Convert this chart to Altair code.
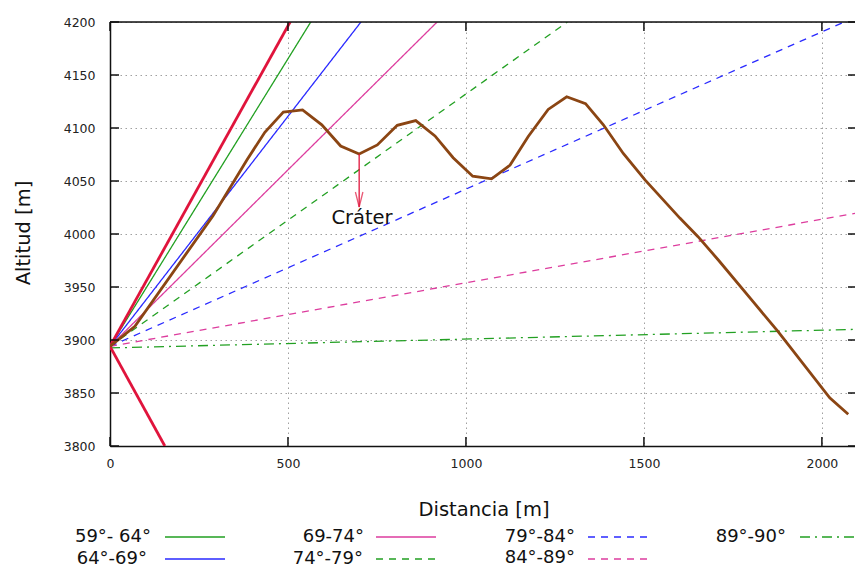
import altair as alt
import pandas as pd

# ---------------- data ----------------
perfil_dist = [0, 70, 289, 385, 435, 487, 541, 595, 648, 700, 751, 807, 859, 913,
               964, 1019, 1072, 1124, 1175, 1231, 1283, 1336, 1386, 1442, 1503,
               1601, 1652, 1709, 1802, 1877, 2022, 2074]
perfil_alt = [3894, 3913, 4017, 4070, 4096, 4115, 4117, 4103, 4083, 4075.5, 4084,
              4102.5, 4107, 4092.5, 4072, 4054.5, 4052, 4065, 4092, 4117.5, 4129.5,
              4123, 4103, 4076, 4051, 4015, 3997.5, 3975.5, 3938, 3908, 3845.5, 3830]

serie_labels = ["59°- 64°", "64°-69°", "69-74°", "74°-79°", "79°-84°", "84°-89°", "89°-90°"]
ray_start_dist = [0, 0, 0, 0, 0, 0, 0]
ray_start_alt = [3894, 3894, 3894, 3894, 3894, 3894, 3892.5]
ray_end_dist = [564, 705, 919, 1285, 2063, 2093, 2093]
ray_end_alt = [4200, 4200, 4200, 4200, 4200, 4019.5, 3910]

rojo_start_dist = [0, 0]
rojo_start_alt = [3894, 3894]
rojo_end_dist = [506, 154]
rojo_end_alt = [4200, 3800]

crater_dist = 700
crater_top = 4075.5
crater_tip = 4025.5
crater_label = "Cráter"
crater_label_dist = 708
crater_label_alt = 4015

x_ticks = [0, 500, 1000, 1500, 2000]
y_ticks = [3800, 3850, 3900, 3950, 4000, 4050, 4100, 4150, 4200]

# ---------------- styles ----------------
verde, azul, magenta = "#22a022", "#2a2aff", "#dd3d9e"
rojo, marron = "#e0143c", "#8b4513"
serie_colors = [verde, azul, magenta, verde, azul, magenta, verde]
serie_dashes = [[1, 0], [1, 0], [1, 0], [7, 6], [7, 6], [7, 6], [10, 5, 2, 5]]
FONT = "DejaVu Sans"
W, H = 745, 424

xs = alt.Scale(domain=[0, 2093], nice=False, zero=False)
ys = alt.Scale(domain=[3800, 4200], nice=False, zero=False)
col_scale = alt.Scale(domain=serie_labels, range=serie_colors)
dash_scale = alt.Scale(domain=serie_labels, range=serie_dashes)

# ---------------- tables ----------------
rays = pd.DataFrame({
    "serie": serie_labels * 2,
    "dist": ray_start_dist + ray_end_dist,
    "alt": ray_start_alt + ray_end_alt,
    "ord": [0] * 7 + [1] * 7,
})
rojos = pd.DataFrame({
    "id": [0, 1, 0, 1],
    "dist": rojo_start_dist + rojo_end_dist,
    "alt": rojo_start_alt + rojo_end_alt,
    "ord": [0, 0, 1, 1],
})
perfil = pd.DataFrame({"dist": perfil_dist, "alt": perfil_alt})

# ---------------- base with axes / grid ----------------
base = alt.Chart(pd.DataFrame({"dist": [0], "alt": [3800]})).mark_point(opacity=0).encode(
    x=alt.X("dist:Q", scale=xs, axis=alt.Axis(
        values=x_ticks, format="d", title=None, ticks=False, tickSize=0,
        labelPadding=11, labelFontSize=12.5, labelFont=FONT, labelColor="#222",
        domainColor="#111", domainWidth=1.5, grid=True, gridDash=[1.5, 3.5],
        gridColor="#a0a0a0", labelFlush=False)),
    y=alt.Y("alt:Q", scale=ys, axis=alt.Axis(
        values=y_ticks, format="d", title=None, ticks=False, tickSize=0,
        labelPadding=15, labelFontSize=12.5, labelFont=FONT, labelColor="#222",
        domainColor="#111", domainWidth=1.5, grid=True, gridDash=[1.5, 3.5],
        gridColor="#a0a0a0", labelFlush=False)),
)

rays_layer = alt.Chart(rays).mark_line(strokeWidth=1.3, clip=True).encode(
    x=alt.X("dist:Q", scale=xs),
    y=alt.Y("alt:Q", scale=ys),
    order="ord:Q",
    color=alt.Color("serie:N", scale=col_scale, legend=None),
    strokeDash=alt.StrokeDash("serie:N", scale=dash_scale, legend=None),
    detail="serie:N",
)

rojos_layer = alt.Chart(rojos).mark_line(strokeWidth=2.8, color=rojo, clip=True).encode(
    x=alt.X("dist:Q", scale=xs), y=alt.Y("alt:Q", scale=ys),
    order="ord:Q", detail="id:N")

perfil_layer = alt.Chart(perfil).mark_line(strokeWidth=2.8, color=marron, clip=True).encode(
    x=alt.X("dist:Q", scale=xs, sort=None), y=alt.Y("alt:Q", scale=ys))

crater_df = pd.DataFrame({"dist": [crater_dist], "top": [crater_top], "tip": [crater_tip],
                          "ld": [crater_label_dist], "la": [crater_label_alt],
                          "txt": [crater_label]})
arrow_line = alt.Chart(crater_df).mark_rule(color=rojo, strokeWidth=1.3).encode(
    x=alt.X("dist:Q", scale=xs), y=alt.Y("top:Q", scale=ys), y2="tip:Q")
arrow_head = alt.Chart(crater_df).mark_point(
    shape="M -0.5 -1 L 0 1 L 0.5 -1", filled=False, color=rojo, strokeWidth=1.3,
    size=225, yOffset=-7.5).encode(x=alt.X("dist:Q", scale=xs), y=alt.Y("tip:Q", scale=ys))
crater_text = alt.Chart(crater_df).mark_text(
    font=FONT, fontSize=19.5, color="#111", baseline="middle", align="center").encode(
    x=alt.X("ld:Q", scale=xs), y=alt.Y("la:Q", scale=ys), text="txt:N")

# ---------------- border and inward ticks ----------------
yt = pd.DataFrame({"alt": y_ticks})
xt = pd.DataFrame({"dist": x_ticks})
tick_style = dict(color="#111", strokeWidth=1.5)
top_border = alt.Chart(xt.head(1)).mark_rule(color="#111", strokeWidth=1.5).encode(
    x=alt.value(0), x2=alt.value(W), y=alt.value(0))
left_ticks = alt.Chart(yt).mark_rule(**tick_style).encode(
    y=alt.Y("alt:Q", scale=ys), x=alt.value(0), x2=alt.value(9))
right_ticks = alt.Chart(yt).mark_rule(**tick_style).encode(
    y=alt.Y("alt:Q", scale=ys), x=alt.value(W - 7), x2=alt.value(W))
bottom_ticks = alt.Chart(xt).mark_rule(**tick_style).encode(
    x=alt.X("dist:Q", scale=xs), y=alt.value(H), y2=alt.value(H - 9))
top_ticks = alt.Chart(xt).mark_rule(**tick_style).encode(
    x=alt.X("dist:Q", scale=xs), y=alt.value(0), y2=alt.value(9))

# ---------------- titles ----------------
one = pd.DataFrame({"a": [0]})
xtitle = alt.Chart(one).mark_text(font=FONT, fontSize=19.5, color="#111",
                                  align="center", baseline="middle").encode(
    x=alt.value(374), y=alt.value(488), text=alt.value("Distancia [m]"))
ytitle = alt.Chart(one).mark_text(font=FONT, fontSize=19.5, color="#111", angle=270,
                                  align="center", baseline="middle").encode(
    x=alt.value(-86), y=alt.value(211), text=alt.value("Altitud [m]"))

# ---------------- manual legend (label left of sample) ----------------
label_right = [151, 147, 364, 363, 575, 575, 786]
label_dy = [0, 0, 0, 0, 0, -1, 0]
col_sample = [(165, 225), (376, 436), (588, 648), (800, 855)]
row_y = [537, 559]
leg_rows = []
for i, lab in enumerate(serie_labels):
    c, r = i // 2, i % 2
    leg_rows.append({"serie": lab,
                     "lx": label_right[i] - 110,
                     "sx0": col_sample[c][0] - 110, "sx1": col_sample[c][1] - 110,
                     "ly": row_y[r] - 22, "ty": row_y[r] - 22 + label_dy[i]})
leg = pd.DataFrame(leg_rows)
leg_text = alt.Chart(leg).mark_text(font=FONT, fontSize=18, color="#111",
                                    align="right", baseline="middle").encode(
    x=alt.X("lx:Q", scale=None, axis=None), y=alt.Y("ty:Q", scale=None, axis=None),
    text="serie:N")
leg_lines = alt.Chart(leg).mark_rule(strokeWidth=1.6).encode(
    x=alt.X("sx0:Q", scale=None, axis=None), x2="sx1:Q",
    y=alt.Y("ly:Q", scale=None, axis=None),
    color=alt.Color("serie:N", scale=col_scale, legend=None),
    strokeDash=alt.StrokeDash("serie:N", scale=dash_scale, legend=None))

chart = alt.layer(
    base, rays_layer, rojos_layer, perfil_layer, arrow_line, arrow_head, crater_text,
    top_border, left_ticks, right_ticks, bottom_ticks, top_ticks,
    xtitle, ytitle, leg_text, leg_lines,
).properties(
    width=W, height=H,
    autosize=alt.AutoSizeParams(type="none"),
    padding={"left": 110, "top": 22, "right": 0, "bottom": 124},
).configure_view(stroke=None).configure(background="white")

chart.save("out.html", embed_options={"renderer": "svg", "actions": False})
